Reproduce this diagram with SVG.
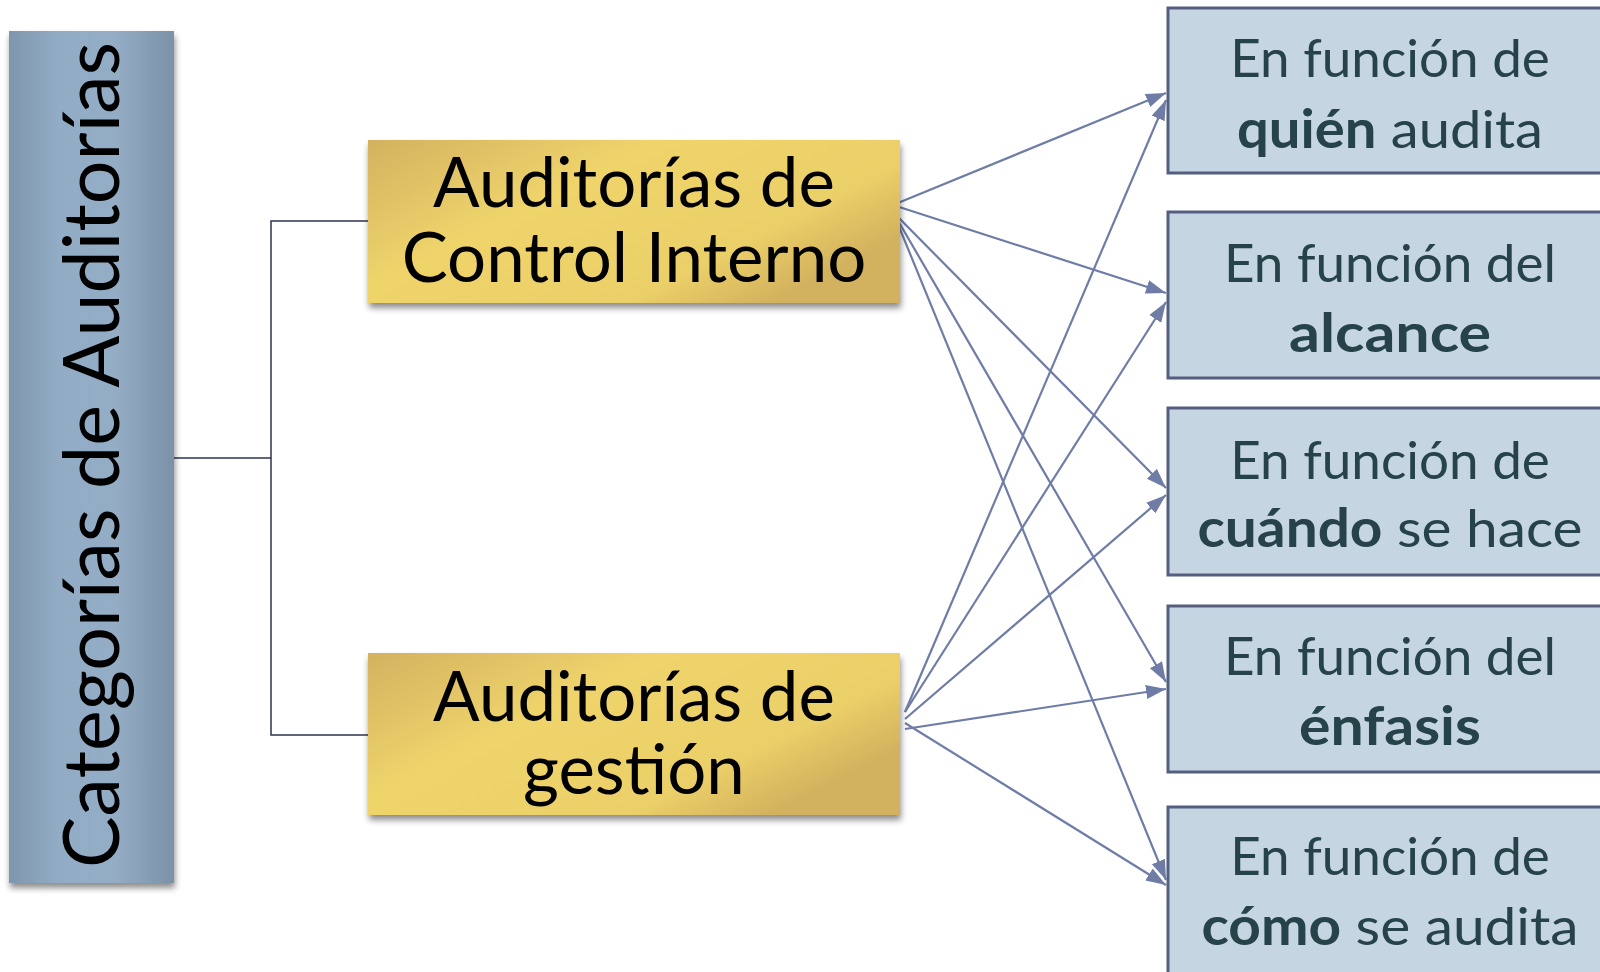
<svg xmlns="http://www.w3.org/2000/svg" width="1600" height="972" viewBox="0 0 1600 972">
<style>
.cat{font-family:Lato,"Open Sans","Liberation Sans",sans-serif;font-size:78px;fill:#000}
.main{font-family:Lato,"Open Sans","Liberation Sans",sans-serif;font-size:69px;fill:#000;text-anchor:middle}
.sub{font-family:Lato,"Open Sans","Liberation Sans",sans-serif;font-size:53px;fill:#27434a;text-anchor:middle}
.b{font-weight:bold}
.box{fill:#c5d5e1;stroke:#555e80;stroke-width:3}
.arr{stroke:#6f7ca6;stroke-width:2.2;fill:none;marker-end:url(#ah)}
.brk{stroke:#2e3352;stroke-width:1.5;fill:none}
</style>
<defs>
<linearGradient id="gBar" x1="0" y1="0" x2="1" y2="0">
<stop offset="0" stop-color="#7e96ad"/>
<stop offset="0.3" stop-color="#92acc5"/>
<stop offset="0.65" stop-color="#94adc5"/>
<stop offset="1" stop-color="#7a91a8"/>
</linearGradient>
<linearGradient id="gGold" x1="0" y1="0" x2="1" y2="0.6">
<stop offset="0" stop-color="#d3b260"/>
<stop offset="0.4" stop-color="#efd46b"/>
<stop offset="0.8" stop-color="#ebcf68"/>
<stop offset="1" stop-color="#d2b15e"/>
</linearGradient>
<filter id="sh" x="-10%" y="-10%" width="125%" height="130%">
<feDropShadow dx="1" dy="5" stdDeviation="3" flood-color="#000" flood-opacity="0.45"/>
</filter>
<marker id="ah" markerUnits="userSpaceOnUse" markerWidth="22" markerHeight="16" refX="20" refY="7" orient="auto">
<path d="M0,0 L20,7 L0,14 z" fill="#6f7ca6"/>
</marker>
</defs>
<rect width="1600" height="972" fill="#fff"/>

<g id="connectors">
<polyline class="brk" points="174,458 271,458"/>
<polyline class="brk" points="368,221 271,221 271,735 368,735"/>
<line class="arr" x1="893" y1="205" x2="1166" y2="93"/>
<line class="arr" x1="893" y1="205" x2="1166" y2="293"/>
<line class="arr" x1="893" y1="212" x2="1166" y2="488"/>
<line class="arr" x1="893" y1="212" x2="1166" y2="682"/>
<line class="arr" x1="893" y1="212" x2="1166" y2="880"/>
<line class="arr" x1="905" y1="712" x2="1166" y2="100"/>
<line class="arr" x1="905" y1="712" x2="1166" y2="302"/>
<line class="arr" x1="905" y1="719" x2="1166" y2="495"/>
<line class="arr" x1="905" y1="729" x2="1166" y2="689"/>
<line class="arr" x1="905" y1="723" x2="1166" y2="885"/>
</g>

<g id="categorias">
<rect x="9" y="31" width="165" height="852" fill="url(#gBar)" filter="url(#sh)"/>
<text class="cat" text-anchor="middle" transform="translate(119,455) rotate(-90)" textLength="826" lengthAdjust="spacingAndGlyphs">Categorías de Auditorías</text>
</g>

<g id="control-interno">
<rect x="368" y="140" width="532" height="163" fill="url(#gGold)" filter="url(#sh)"/>
<text class="main" x="634" y="207">Auditorías de</text>
<text class="main" x="634" y="282">Control Interno</text>
</g>

<g id="gestion">
<rect x="368" y="653" width="532" height="162" fill="url(#gGold)" filter="url(#sh)"/>
<text class="main" x="634" y="721">Auditorías de</text>
<text class="main" x="634" y="794">gestión</text>
</g>

<g id="quien">
<rect class="box" x="1168" y="8" width="450" height="165"/>
<text class="sub" x="1390" y="77">En función de</text>
<text class="sub" x="1390" y="148" textLength="306" lengthAdjust="spacingAndGlyphs"><tspan class="b">quién</tspan> audita</text>
</g>

<g id="alcance">
<rect class="box" x="1168" y="212" width="450" height="166"/>
<text class="sub" x="1390" y="282">En función del</text>
<text class="sub b" x="1390" y="352" textLength="202" lengthAdjust="spacingAndGlyphs">alcance</text>
</g>

<g id="cuando">
<rect class="box" x="1168" y="408" width="450" height="167"/>
<text class="sub" x="1390" y="479">En función de</text>
<text class="sub" x="1390" y="547" textLength="385" lengthAdjust="spacingAndGlyphs"><tspan class="b">cuándo</tspan> se hace</text>
</g>

<g id="enfasis">
<rect class="box" x="1168" y="606" width="450" height="166"/>
<text class="sub" x="1390" y="675">En función del</text>
<text class="sub b" x="1390" y="745" textLength="182" lengthAdjust="spacingAndGlyphs">énfasis</text>
</g>

<g id="como">
<rect class="box" x="1168" y="807" width="450" height="180"/>
<text class="sub" x="1390" y="875">En función de</text>
<text class="sub" x="1390" y="945" textLength="377" lengthAdjust="spacingAndGlyphs"><tspan class="b">cómo</tspan> se audita</text>
</g>
</svg>
